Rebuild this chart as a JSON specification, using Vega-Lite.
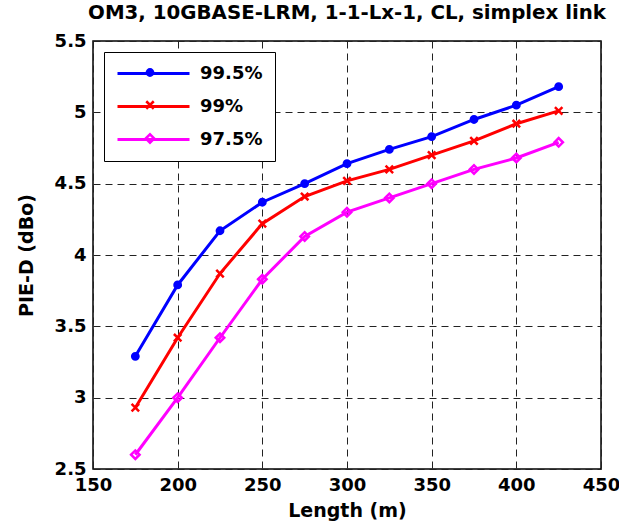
{
  "$schema": "https://vega.github.io/schema/vega-lite/v6.json",
  "width": 508,
  "height": 428,
  "autosize": {"type": "none"},
  "padding": {"left": 93, "top": 41, "right": 18, "bottom": 58},
  "background": "white",
  "title": {"text": "OM3, 10GBASE-LRM, 1-1-Lx-1, CL, simplex link", "font": "DejaVu Sans", "fontSize": 19.8, "fontWeight": "bold", "color": "black", "offset": 9, "anchor": "middle"},
  "config": {
    "view": {"stroke": "black", "strokeWidth": 1.5},
    "axis": {"labelFont": "DejaVu Sans", "labelFontSize": 18, "labelFontWeight": "bold", "labelColor": "black", "titleFont": "DejaVu Sans", "titleFontSize": 19, "titleFontWeight": "bold", "titleColor": "black", "grid": true, "gridColor": "#222", "gridDash": [7, 5], "gridWidth": 1, "domain": false, "ticks": false, "labelFlush": false}
  },
  "data": {"values": [
    {"len": 175, "v": 3.29, "s": "99.5%"}, {"len": 200, "v": 3.79, "s": "99.5%"}, {"len": 225, "v": 4.17, "s": "99.5%"}, {"len": 250, "v": 4.37, "s": "99.5%"}, {"len": 275, "v": 4.50, "s": "99.5%"}, {"len": 300, "v": 4.64, "s": "99.5%"}, {"len": 325, "v": 4.74, "s": "99.5%"}, {"len": 350, "v": 4.83, "s": "99.5%"}, {"len": 375, "v": 4.95, "s": "99.5%"}, {"len": 400, "v": 5.05, "s": "99.5%"}, {"len": 425, "v": 5.18, "s": "99.5%"},
    {"len": 175, "v": 2.93, "s": "99%"}, {"len": 200, "v": 3.42, "s": "99%"}, {"len": 225, "v": 3.87, "s": "99%"}, {"len": 250, "v": 4.22, "s": "99%"}, {"len": 275, "v": 4.41, "s": "99%"}, {"len": 300, "v": 4.52, "s": "99%"}, {"len": 325, "v": 4.60, "s": "99%"}, {"len": 350, "v": 4.70, "s": "99%"}, {"len": 375, "v": 4.80, "s": "99%"}, {"len": 400, "v": 4.92, "s": "99%"}, {"len": 425, "v": 5.01, "s": "99%"},
    {"len": 175, "v": 2.60, "s": "97.5%"}, {"len": 200, "v": 3.00, "s": "97.5%"}, {"len": 225, "v": 3.42, "s": "97.5%"}, {"len": 250, "v": 3.83, "s": "97.5%"}, {"len": 275, "v": 4.13, "s": "97.5%"}, {"len": 300, "v": 4.30, "s": "97.5%"}, {"len": 325, "v": 4.40, "s": "97.5%"}, {"len": 350, "v": 4.50, "s": "97.5%"}, {"len": 375, "v": 4.60, "s": "97.5%"}, {"len": 400, "v": 4.68, "s": "97.5%"}, {"len": 425, "v": 4.79, "s": "97.5%"}
  ]},
  "encoding": {
    "x": {"field": "len", "type": "quantitative", "title": "Length (m)", "scale": {"domain": [150, 450], "nice": false}, "axis": {"values": [150, 200, 250, 300, 350, 400, 450], "labelPadding": 7, "titlePadding": 7}},
    "y": {"field": "v", "type": "quantitative", "title": "PIE-D (dBo)", "scale": {"domain": [2.5, 5.5], "nice": false, "zero": false}, "axis": {"values": [2.5, 3, 3.5, 4, 4.5, 5, 5.5], "format": "~g", "labelPadding": 7, "titlePadding": 18}}
  },
  "layer": [
    {
      "mark": {"type": "line", "strokeWidth": 3},
      "encoding": {
        "color": {"field": "s", "type": "nominal", "scale": {"domain": ["99.5%", "99%", "97.5%", "_"], "range": ["#0000ff", "#ff0000", "#ff00ff", "#000000"]},
          "legend": {"title": null, "values": ["99.5%", "99%", "97.5%"], "orient": "none", "legendX": 11, "legendY": 11, "symbolType": "M-1,0L8,0", "symbolSize": 256, "symbolStrokeWidth": 3, "symbolFillColor": "transparent", "labelFont": "DejaVu Sans", "labelFontSize": 18, "labelFontWeight": "bold", "labelColor": "black", "labelOffset": 65, "padding": 12, "rowPadding": 14, "strokeColor": "black", "fillColor": "white", "labelLimit": 200, "zindex": 1}}
      }
    },
    {
      "mark": {"type": "point", "strokeWidth": 2.5, "opacity": 1},
      "encoding": {
        "stroke": {"field": "s", "type": "nominal", "scale": {"domain": ["99.5%", "99%", "97.5%"], "range": ["#0000ff", "#ff0000", "#ff00ff"]},
          "legend": {"title": null, "orient": "none", "legendX": 39.5, "legendY": 15, "symbolStrokeWidth": 2.5, "labelExpr": "''", "labelFontSize": 1, "labelOffset": 0, "padding": 12, "rowPadding": 15, "zindex": 2}},
        "fill": {"field": "s", "type": "nominal", "scale": {"domain": ["99.5%", "99%", "97.5%"], "range": ["#0000ff", "transparent", "transparent"]},
          "legend": {"title": null, "orient": "none", "legendX": 39.5, "legendY": 15, "symbolStrokeWidth": 2.5, "labelExpr": "''", "labelFontSize": 1, "labelOffset": 0, "padding": 12, "rowPadding": 15, "zindex": 2}},
        "shape": {"field": "s", "type": "nominal", "scale": {"domain": ["99.5%", "99%", "97.5%"], "range": ["circle", "M-1,-1L1,1M1,-1L-1,1", "diamond"]},
          "legend": {"title": null, "orient": "none", "legendX": 39.5, "legendY": 15, "symbolStrokeWidth": 2.5, "labelExpr": "''", "labelFontSize": 1, "labelOffset": 0, "padding": 12, "rowPadding": 15, "zindex": 2}},
        "size": {"field": "s", "type": "nominal", "scale": {"domain": ["99.5%", "99%", "97.5%"], "range": [40, 72, 256]},
          "legend": {"title": null, "orient": "none", "legendX": 39.5, "legendY": 15, "symbolStrokeWidth": 2.5, "labelExpr": "''", "labelFontSize": 1, "labelOffset": 0, "padding": 12, "rowPadding": 15, "zindex": 2}}
      }
    }
  ]
}
